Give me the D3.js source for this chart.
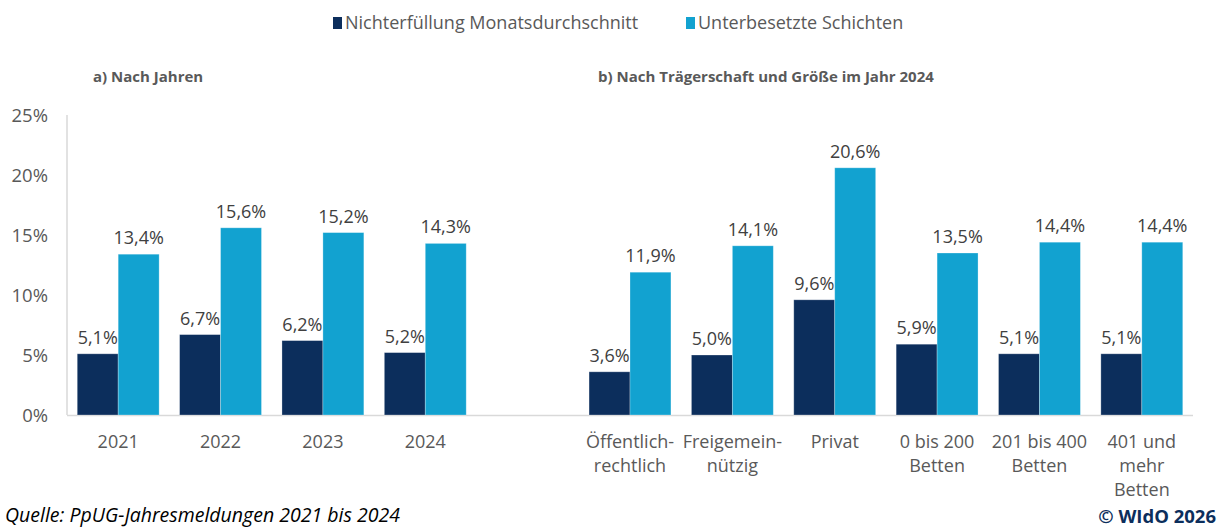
<!DOCTYPE html>
<html>
<head>
<meta charset="utf-8">
<script src="https://cdn.jsdelivr.net/npm/d3@7"></script>
<style>
  body { margin: 0; background: #fff; }
  svg { display: block; }
</style>
</head>
<body>
<svg id="chart"></svg>
<script>
const categories = ["2021", "2022", "2023", "2024", "", "Öffentlich-|rechtlich", "Freigemein-|nützig", "Privat", "0 bis 200|Betten", "201 bis 400|Betten", "401 und|mehr|Betten"];
const nichterfuellung = [5.1, 6.7, 6.2, 5.2, null, 3.6, 5.0, 9.6, 5.9, 5.1, 5.1];
const unterbesetzt = [13.4, 15.6, 15.2, 14.3, null, 11.9, 14.1, 20.6, 13.5, 14.4, 14.4];
const seriesNames = ["Nichterfüllung Monatsdurchschnitt", "Unterbesetzte Schichten"];
const yTicks = [0, 5, 10, 15, 20, 25];

const width = 1225, height = 529;
const colors = ["#0c2e5c", "#12a2d0"];
const textColor = "#595959";
const font = "'Open Sans', sans-serif";

const svg = d3.select("#chart").attr("width", width).attr("height", height);

const x = d3.scaleBand()
    .domain(d3.range(categories.length))
    .range([67, 1193])
    .paddingInner(0.2)
    .paddingOuter(0.1);

const xs = d3.scaleBand()
    .domain([0, 1])
    .range([0, x.bandwidth()]);

const y = d3.scaleLinear()
    .domain([0, 25])
    .range([415, 115]);

// axes lines
svg.append("line")
    .attr("x1", 67).attr("x2", 67)
    .attr("y1", y(25)).attr("y2", y(0))
    .attr("stroke", "#d9d9d9").attr("stroke-width", 1.5);

svg.append("line")
    .attr("x1", 67).attr("x2", 1193)
    .attr("y1", y(0) + 0.5).attr("y2", y(0) + 0.5)
    .attr("stroke", "#d9d9d9").attr("stroke-width", 1.5);

// y tick labels
svg.append("g")
    .selectAll("text")
    .data(yTicks)
    .join("text")
    .attr("x", 48)
    .attr("y", d => y(d))
    .attr("dy", "0.36em")
    .attr("text-anchor", "end")
    .attr("font-family", font)
    .attr("font-size", 18.5)
    .attr("fill", textColor)
    .text(d => d + "%");

// bars
const rows = [];
categories.forEach((c, i) => {
    [nichterfuellung[i], unterbesetzt[i]].forEach((v, s) => {
        if (v != null) rows.push({i, s, v});
    });
});

svg.append("g")
    .selectAll("rect")
    .data(rows)
    .join("rect")
    .attr("x", d => x(d.i) + xs(d.s))
    .attr("y", d => y(d.v))
    .attr("width", xs.bandwidth())
    .attr("height", d => y(0) - y(d.v))
    .attr("fill", d => colors[d.s])
    .attr("stroke", "#ffffff")
    .attr("stroke-opacity", 0.35)
    .attr("stroke-width", 0.8);

// value labels
svg.append("g")
    .selectAll("text")
    .data(rows)
    .join("text")
    .attr("x", d => x(d.i) + xs(d.s) + xs.bandwidth() / 2)
    .attr("y", d => y(d.v) - 10)
    .attr("text-anchor", "middle")
    .attr("font-family", font)
    .attr("font-size", 18)
    .attr("fill", "#404040")
    .text(d => d.v.toFixed(1).replace(".", ",") + "%");

// category labels
const catG = svg.append("g")
    .selectAll("text")
    .data(categories.map((c, i) => ({c, i})))
    .join("text")
    .attr("x", d => x(d.i) + x.bandwidth() / 2)
    .attr("y", 448)
    .attr("text-anchor", "middle")
    .attr("font-family", font)
    .attr("font-size", 18)
    .attr("fill", textColor);

catG.selectAll("tspan")
    .data(d => d.c.split("|").map(t => ({t, xx: x(d.i) + x.bandwidth() / 2})))
    .join("tspan")
    .attr("x", d => d.xx)
    .attr("dy", (d, k) => k === 0 ? 0 : 24)
    .text(d => d.t);

// legend
const legendX = [333, 686];
const legend = svg.append("g")
    .selectAll("g")
    .data(seriesNames)
    .join("g")
    .attr("transform", (d, k) => `translate(${legendX[k]},23)`);

legend.append("rect")
    .attr("x", 0).attr("y", -6)
    .attr("width", 9).attr("height", 12)
    .attr("fill", (d, k) => colors[k]);

legend.append("text")
    .attr("x", 12)
    .attr("dy", "0.35em")
    .attr("font-family", font)
    .attr("font-size", 18)
    .attr("fill", textColor)
    .text(d => d);

// subtitles
svg.append("text")
    .attr("x", 93).attr("y", 82)
    .attr("font-family", font)
    .attr("font-size", 15)
    .attr("font-weight", "bold")
    .attr("fill", textColor)
    .text("a) Nach Jahren");

svg.append("text")
    .attr("x", 598).attr("y", 82)
    .attr("font-family", font)
    .attr("font-size", 15)
    .attr("font-weight", "bold")
    .attr("fill", textColor)
    .text("b) Nach Trägerschaft und Größe im Jahr 2024");

// footer
svg.append("text")
    .attr("x", 5).attr("y", 522)
    .attr("font-family", font)
    .attr("font-size", 19.5)
    .attr("font-style", "italic")
    .attr("fill", "#000")
    .text("Quelle: PpUG-Jahresmeldungen 2021 bis 2024");

svg.append("text")
    .attr("x", 1216).attr("y", 523)
    .attr("text-anchor", "end")
    .attr("font-family", font)
    .attr("font-size", 18.5)
    .attr("font-weight", "bold")
    .attr("fill", "#0c2e5c")
    .text("© WIdO 2026");
</script>
</body>
</html>
